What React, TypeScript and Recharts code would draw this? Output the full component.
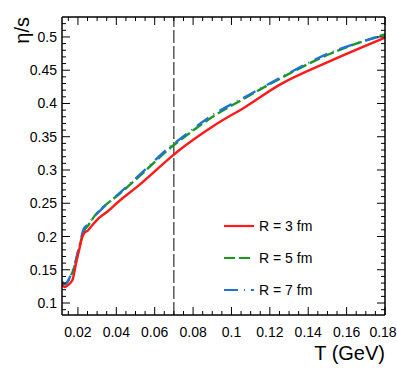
import { LineChart, Line, XAxis, YAxis, ReferenceLine } from "recharts";

// η/s vs T for three system sizes; vertical marker at T = 0.07 GeV
const tR3 = [0.0117, 0.013, 0.0148, 0.0172, 0.0191, 0.0209, 0.0221, 0.0235, 0.0252, 0.0269, 0.031, 0.0356, 0.0408, 0.0522, 0.0695, 0.0729, 0.0902, 0.1076, 0.125, 0.1508, 0.18];
const etaR3 = [0.128, 0.124, 0.127, 0.135, 0.161, 0.183, 0.198, 0.206, 0.209, 0.215, 0.228, 0.238, 0.2515, 0.278, 0.322, 0.33, 0.3655, 0.3955, 0.428, 0.463, 0.499];

const tR5 = [0.0117, 0.013, 0.0157, 0.0183, 0.0209, 0.0231, 0.0252, 0.0287, 0.0339, 0.0408, 0.0522, 0.0693, 0.0729, 0.0902, 0.1076, 0.125, 0.1508, 0.18];
const etaR5 = [0.131, 0.128, 0.137, 0.156, 0.186, 0.208, 0.216, 0.231, 0.246, 0.262, 0.291, 0.336, 0.344, 0.38, 0.409, 0.437, 0.474, 0.504];

const tR7 = [0.0117, 0.013, 0.0145, 0.0157, 0.0183, 0.0209, 0.0231, 0.0252, 0.0287, 0.0339, 0.0408, 0.0522, 0.0693, 0.0729, 0.0902, 0.1076, 0.125, 0.1508, 0.18];
const etaR7 = [0.1325, 0.129, 0.132, 0.1385, 0.158, 0.188, 0.212, 0.218, 0.2305, 0.2455, 0.263, 0.293, 0.338, 0.346, 0.3825, 0.4105, 0.438, 0.4755, 0.503];

const xMajor = [0.02, 0.04, 0.06, 0.08, 0.1, 0.12, 0.14, 0.16, 0.18];
const yMajor = [0.1, 0.15, 0.2, 0.25, 0.3, 0.35, 0.4, 0.45, 0.5];
const markerT = 0.07;

const xMinor: number[] = [];
for (let i = 3; i <= 36; i++) xMinor.push(i * 5 / 1000);
const yMinor: number[] = [];
for (let i = 9; i <= 52; i++) yMinor.push(i / 100);

const toRows = (t: number[], eta: number[]) => t.map((T, i) => ({ T, eta: eta[i] }));
const r3 = { name: "R = 3 fm", data: toRows(tR3, etaR3), color: "#ff1a1a", dash: undefined };
const r5 = { name: "R = 5 fm", data: toRows(tR5, etaR5), color: "#17991a", dash: "11 4" };
const r7 = { name: "R = 7 fm", data: toRows(tR7, etaR7), color: "#1f74d2", dash: "14 6 1 6" };
// draw order: green under blue, red on top
const drawOrder = [r5, r7, r3];

const FONT = "'Liberation Sans', Arial, Helvetica, sans-serif";
const isMajor = (v: number, list: number[]) => list.some((m) => Math.abs(m - v) < 1e-6);
const fmt = (v: number) => String(Number(v.toFixed(3)));

function XTick(props: any) {
  const { x, y, payload, top } = props;
  const major = isMajor(payload.value, xMajor);
  const len = major ? 8 : 4;
  // last label sits on the right edge, nudge it in so it is not clipped
  const last = Math.abs(payload.value - xMajor[xMajor.length - 1]) < 1e-6;
  return (
    <g>
      <line x1={x} x2={x} y1={y} y2={top ? y + len : y - len} stroke="#000" strokeWidth={1} />
      {!top && major && (
        <text x={last ? x - 2 : x} y={y + 22} textAnchor="middle" fontSize={14} fontFamily={FONT} fill="#000">
          {fmt(payload.value)}
        </text>
      )}
    </g>
  );
}

function YTick(props: any) {
  const { x, y, payload, right } = props;
  const major = isMajor(payload.value, yMajor);
  const len = major ? 8 : 4;
  return (
    <g>
      <line x1={x} x2={right ? x - len : x + len} y1={y} y2={y} stroke="#000" strokeWidth={1} />
      {!right && major && (
        <text x={x - 5} y={y + 5} textAnchor="end" fontSize={14} fontFamily={FONT} fill="#000">
          {fmt(payload.value)}
        </text>
      )}
    </g>
  );
}

function LegendBox() {
  const rows = [r3, r5, r7];
  return (
    <div style={{ position: "absolute", left: 224, top: 210, fontFamily: FONT, fontSize: 14, color: "#000" }}>
      {rows.map((s) => (
        <div key={s.name} style={{ display: "flex", alignItems: "center", height: 32 }}>
          <svg width={30} height={6} style={{ marginRight: 5 }}>
            <line x1={0} x2={30} y1={3} y2={3} stroke={s.color} strokeWidth={2.2} strokeDasharray={s.dash} />
          </svg>
          <span>{s.name}</span>
        </div>
      ))}
    </div>
  );
}

export default function App() {
  const xDomain = [0.0117, 0.18];
  const yDomain = [0.082, 0.53];
  const axisLine = { stroke: "#000", strokeWidth: 1.5 };
  return (
    <div style={{ position: "absolute", left: 0, top: 0, width: 397, height: 379, background: "#fff" }}>
      <LineChart width={397} height={379} margin={{ top: 16, right: 11, bottom: 63, left: 61 }} style={{ fontFamily: FONT }}>
        <XAxis
          dataKey="T"
          type="number"
          domain={xDomain}
          allowDataOverflow
          ticks={xMinor}
          interval={0}
          height={1}
          tickSize={0}
          tickMargin={0}
          tickLine={false}
          axisLine={axisLine}
          tick={<XTick />}
          label={{
            content: () => (
              <text x={385} y={360} textAnchor="end" fontSize={20} fontFamily={FONT} fill="#000">
                T (GeV)
              </text>
            ),
          }}
        />
        <XAxis
          xAxisId="top"
          orientation="top"
          dataKey="T"
          type="number"
          domain={xDomain}
          allowDataOverflow
          ticks={xMinor}
          interval={0}
          height={1}
          tickSize={0}
          tickMargin={0}
          tickLine={false}
          axisLine={axisLine}
          tick={<XTick top />}
        />
        <YAxis
          type="number"
          domain={yDomain}
          allowDataOverflow
          ticks={yMinor}
          interval={0}
          width={1}
          tickSize={0}
          tickMargin={0}
          tickLine={false}
          axisLine={axisLine}
          tick={<YTick />}
          label={{
            content: () => (
              <text
                x={29}
                y={17}
                transform="rotate(-90 29 17)"
                textAnchor="end"
                fontSize={20}
                fontFamily={FONT}
                fill="#000"
              >
                η/s
              </text>
            ),
          }}
        />
        <YAxis
          yAxisId="right"
          orientation="right"
          type="number"
          domain={yDomain}
          allowDataOverflow
          ticks={yMinor}
          interval={0}
          width={1}
          tickSize={0}
          tickMargin={0}
          tickLine={false}
          axisLine={axisLine}
          tick={<YTick right />}
        />
        <ReferenceLine x={markerT} stroke="#000" strokeWidth={1} strokeDasharray="13 3" />
        {drawOrder.map((s) => (
          <Line
            key={s.name}
            data={s.data}
            dataKey="eta"
            name={s.name}
            type="monotone"
            stroke={s.color}
            strokeWidth={2.4}
            strokeDasharray={s.dash}
            dot={false}
            activeDot={false}
            isAnimationActive={false}
          />
        ))}
      </LineChart>
      <LegendBox />
    </div>
  );
}
